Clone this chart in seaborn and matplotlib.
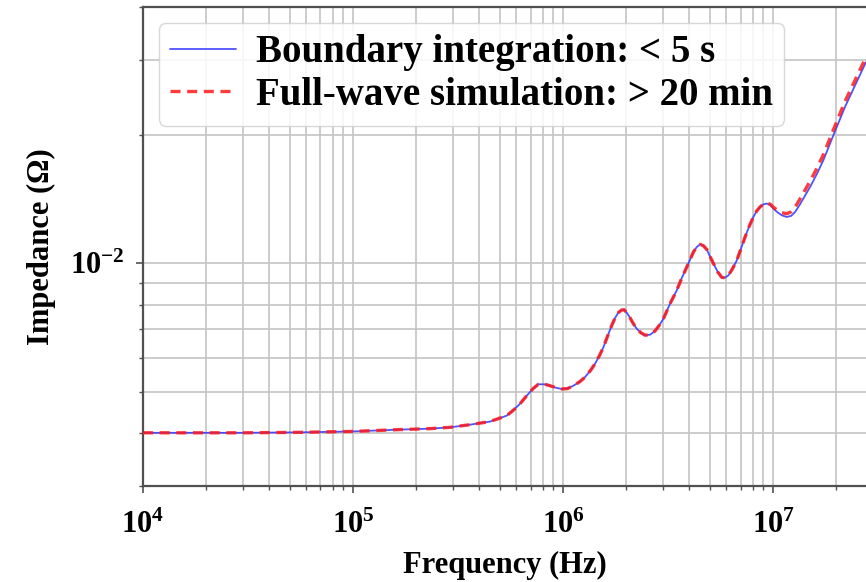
import numpy as np
import pandas as pd
import matplotlib
matplotlib.use("Agg")
import matplotlib.pyplot as plt
import matplotlib.ticker as mticker
from matplotlib.lines import Line2D
import seaborn as sns

# ---- data ----
freq_hz = [1.0e4, 3.0e4, 5.6e4, 1.0e5, 1.67e5, 2.3e5, 2.90e5, 3.61e5, 4.49e5, 5.40e5,
           5.80e5, 6.24e5, 6.72e5, 7.20e5, 7.63e5, 8.20e5, 8.67e5, 9.30e5, 9.86e5, 1.05e6,
           1.12e6, 1.20e6, 1.27e6, 1.35e6, 1.42e6, 1.49e6, 1.556e6, 1.63e6, 1.706e6, 1.77e6,
           1.834e6, 1.90e6, 1.952e6, 2.01e6, 2.084e6, 2.16e6, 2.244e6, 2.35e6, 2.458e6, 2.60e6,
           2.743e6, 2.87e6, 3.004e6, 3.232e6, 3.478e6, 3.68e6, 3.882e6, 4.04e6, 4.174e6, 4.33e6,
           4.492e6, 4.66e6, 4.834e6, 5.00e6, 5.197e6, 5.45e6, 5.699e6, 5.90e6, 6.125e6, 6.40e6,
           6.717e6, 7.03e6, 7.356e6, 7.70e6, 8.057e6, 8.36e6, 8.672e6, 9.0e6, 9.333e6, 9.68e6,
           1.003e7, 1.05e7, 1.100e7, 1.162e7, 1.22e7, 1.273e7, 1.33e7, 1.394e7, 1.501e7, 1.62e7,
           1.736e7, 1.93e7, 2.20e7, 2.49e7, 2.77e7]

imp_boundary = [4.00e-3, 4.00e-3, 4.01e-3, 4.03e-3, 4.07e-3, 4.09e-3, 4.12e-3, 4.18e-3, 4.25e-3, 4.39e-3,
                4.52e-3, 4.68e-3, 4.89e-3, 5.08e-3, 5.20e-3, 5.20e-3, 5.16e-3, 5.10e-3, 5.07e-3, 5.08e-3,
                5.16e-3, 5.27e-3, 5.40e-3, 5.60e-3, 5.81e-3, 6.07e-3, 6.35e-3, 6.75e-3, 7.15e-3, 7.45e-3,
                7.66e-3, 7.77e-3, 7.78e-3, 7.66e-3, 7.45e-3, 7.22e-3, 7.02e-3, 6.87e-3, 6.78e-3, 6.80e-3,
                6.94e-3, 7.15e-3, 7.41e-3, 8.04e-3, 8.64e-3, 9.25e-3, 9.80e-3, 1.025e-2, 1.063e-2, 1.092e-2,
                1.108e-2, 1.100e-2, 1.078e-2, 1.040e-2, 1.000e-2, 9.55e-3, 9.27e-3, 9.25e-3, 9.37e-3, 9.70e-3,
                1.016e-2, 1.082e-2, 1.153e-2, 1.222e-2, 1.285e-2, 1.328e-2, 1.357e-2, 1.376e-2, 1.382e-2, 1.372e-2,
                1.345e-2, 1.318e-2, 1.297e-2, 1.285e-2, 1.293e-2, 1.320e-2, 1.365e-2, 1.420e-2, 1.512e-2, 1.625e-2,
                1.747e-2, 1.99e-2, 2.33e-2, 2.655e-2, 2.97e-2]

imp_fullwave = [4.00e-3, 4.00e-3, 4.01e-3, 4.03e-3, 4.07e-3, 4.09e-3, 4.12e-3, 4.18e-3, 4.25e-3, 4.39e-3,
                4.52e-3, 4.68e-3, 4.89e-3, 5.08e-3, 5.20e-3, 5.20e-3, 5.16e-3, 5.10e-3, 5.07e-3, 5.08e-3,
                5.16e-3, 5.27e-3, 5.40e-3, 5.60e-3, 5.81e-3, 6.07e-3, 6.35e-3, 6.75e-3, 7.15e-3, 7.45e-3,
                7.66e-3, 7.77e-3, 7.78e-3, 7.66e-3, 7.45e-3, 7.22e-3, 7.02e-3, 6.87e-3, 6.78e-3, 6.80e-3,
                6.94e-3, 7.15e-3, 7.41e-3, 8.04e-3, 8.64e-3, 9.25e-3, 9.80e-3, 1.025e-2, 1.063e-2, 1.092e-2,
                1.108e-2, 1.100e-2, 1.078e-2, 1.040e-2, 1.000e-2, 9.55e-3, 9.27e-3, 9.25e-3, 9.37e-3, 9.70e-3,
                1.016e-2, 1.082e-2, 1.153e-2, 1.222e-2, 1.285e-2, 1.328e-2, 1.357e-2, 1.378e-2, 1.385e-2, 1.378e-2,
                1.355e-2, 1.332e-2, 1.315e-2, 1.308e-2, 1.322e-2, 1.355e-2, 1.405e-2, 1.462e-2, 1.560e-2, 1.675e-2,
                1.800e-2, 2.05e-2, 2.40e-2, 2.73e-2, 3.05e-2]

label_boundary = "Boundary integration: < 5 s"
label_fullwave = "Full-wave simulation: > 20 min"

df = pd.DataFrame({
    "Frequency": freq_hz * 2,
    "Impedance": imp_boundary + imp_fullwave,
    "Method": [label_boundary] * len(freq_hz) + [label_fullwave] * len(freq_hz),
})

sns.set_theme(style="whitegrid")
plt.rcParams["font.family"] = ["Liberation Serif", "DejaVu Serif"]
plt.rcParams["font.weight"] = "bold"
plt.rcParams["mathtext.fontset"] = "custom"
plt.rcParams["mathtext.rm"] = "Liberation Serif:bold"
plt.rcParams["mathtext.bf"] = "Liberation Serif:bold"
plt.rcParams["mathtext.it"] = "Liberation Serif:bold"
plt.rcParams["text.color"] = "black"
plt.rcParams["axes.labelcolor"] = "black"
plt.rcParams["xtick.color"] = "black"
plt.rcParams["ytick.color"] = "black"

fig = plt.figure(figsize=(8.66, 5.82), dpi=100)
ax = fig.add_axes([143 / 866, 96 / 582, 1 - 143 / 866, (486 - 7) / 582])

blue = "#3333ff"
red = "#ff1a1a"
sns.lineplot(data=df, x="Frequency", y="Impedance", hue="Method", style="Method",
             palette={label_boundary: blue, label_fullwave: red},
             dashes={label_boundary: "", label_fullwave: (3, 2)},
             ax=ax, legend=False, sort=False)

lines = ax.get_lines()
lines[0].set_linewidth(1.3)
lines[0].set_alpha(0.85)
lines[0].set_zorder(3)
lines[1].set_linewidth(2.4)
lines[1].set_alpha(0.85)
lines[1].set_zorder(4)

ax.set_xscale("log")
ax.set_yscale("log")
ax.set_xlim(1e4, 2.77e7)
ax.set_ylim(3e-3, 4e-2)

ax.xaxis.set_major_locator(mticker.LogLocator(base=10, numticks=20))
ax.xaxis.set_minor_locator(mticker.LogLocator(base=10, subs=np.arange(2, 10), numticks=20))
ax.xaxis.set_minor_formatter(mticker.NullFormatter())
ax.yaxis.set_major_locator(mticker.LogLocator(base=10, numticks=20))
ax.yaxis.set_minor_locator(mticker.LogLocator(base=10, subs=np.arange(2, 10), numticks=20))
ax.yaxis.set_minor_formatter(mticker.NullFormatter())

ax.grid(True, which="both", color="#c4c4c4", linewidth=1.2)
ax.set_axisbelow(True)

for side in ["left", "bottom", "top"]:
    ax.spines[side].set_visible(True)
    ax.spines[side].set_color("#505050")
    ax.spines[side].set_linewidth(1.6)
ax.spines["right"].set_visible(False)

ax.tick_params(which="major", direction="out", length=5, width=1.2, color="#505050",
               labelsize=22, labelcolor="black", bottom=True, left=True)
ax.tick_params(which="minor", direction="out", length=3, width=1.0, color="#505050",
               bottom=True, left=True)
ax.tick_params(axis="x", which="major", pad=13)
ax.tick_params(axis="y", which="major", pad=8)

ax.set_xlabel("Frequency (Hz)", fontsize=22, fontweight="bold", labelpad=8)
ax.set_ylabel("Impedance (Ω)", fontsize=22, fontweight="bold", labelpad=10)

handles = [Line2D([], [], color=blue, lw=1.3, alpha=0.85),
           Line2D([], [], color=red, lw=2.4, alpha=0.85, dashes=(3, 2))]
leg = ax.legend(handles, [label_boundary, label_fullwave], loc="upper left",
                prop={"family": "Liberation Serif", "weight": "bold", "size": 28},
                frameon=True, fancybox=True, framealpha=0.85, edgecolor="#d0d0d0",
                handlelength=1.7, handletextpad=0.5, borderpad=0.3, labelspacing=0.15,
                borderaxespad=0.4)
for t in leg.get_texts():
    t.set_color("black")

fig.savefig("out.png", dpi=100)
